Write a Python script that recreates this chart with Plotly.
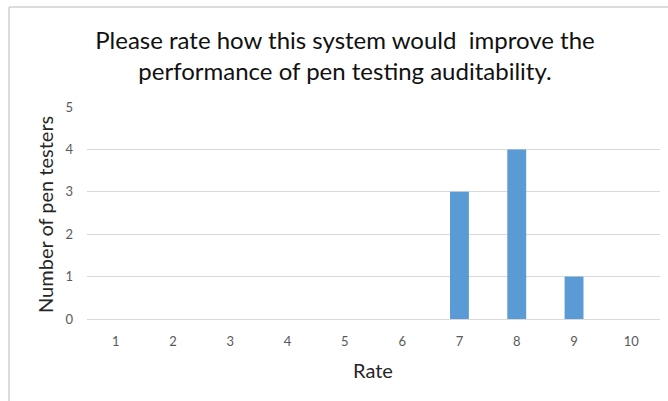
import plotly.graph_objects as go

rates = ["1", "2", "3", "4", "5", "6", "7", "8", "9", "10"]
counts = [0, 0, 0, 0, 0, 0, 3, 4, 1, 0]
y_ticks = [0, 1, 2, 3, 4, 5]

W, H = 668, 401
L, R, T, B = 87, 8, 107, 82
pw = W - L - R
ph = H - T - B

def px_x(x):
    return (x - L) / pw

def px_y(y):
    return (H - B - y) / ph

fig = go.Figure()
fig.add_trace(go.Bar(x=rates, y=counts, marker=dict(color="#5b9bd5", line=dict(width=0))))

fig.update_layout(
    width=W, height=H,
    margin=dict(l=L, r=R, t=T, b=B),
    paper_bgcolor="white", plot_bgcolor="white",
    font=dict(family="Lato, Open Sans, sans-serif", color="#595959"),
    bargap=0.67,
    showlegend=False,
    title=dict(
        text="Please rate how this system would  improve the<br>performance of pen testing auditability.",
        x=345 / W, xanchor="center", xref="container",
        y=1 - 49 / H, yanchor="middle", yref="container",
        font=dict(size=24, color="#111111", family="Lato, sans-serif"),
    ),
    xaxis=dict(
        type="category", showgrid=False, showline=False, zeroline=False,
        ticks="", ticklabelstandoff=13, tickfont=dict(size=13, color="#595959"),
    ),
    yaxis=dict(
        range=[0, 5], tickvals=y_ticks, showgrid=True, gridcolor="#d9d9d9",
        gridwidth=1, zeroline=True, zerolinecolor="#d9d9d9", zerolinewidth=1,
        showline=False, ticks="", ticklabelstandoff=13,
        tickfont=dict(size=13, color="#595959"),
    ),
    annotations=[
        dict(text="Rate", xref="paper", yref="paper", x=px_x(373), y=px_y(370),
             xanchor="center", yanchor="middle", showarrow=False,
             font=dict(size=20, color="#262626")),
        dict(text="Number of pen testers", xref="paper", yref="paper",
             x=px_x(45), y=px_y(215), xanchor="center", yanchor="middle",
             textangle=-90, showarrow=False, font=dict(size=20, color="#262626")),
    ],
    shapes=[
        dict(type="line", xref="paper", yref="paper", x0=px_x(9), x1=px_x(9),
             y0=px_y(7), y1=px_y(H + 5), line=dict(color="#d0d0d0", width=1.5)),
        dict(type="line", xref="paper", yref="paper", x0=px_x(9), x1=px_x(W + 5),
             y0=px_y(7), y1=px_y(7), line=dict(color="#d0d0d0", width=1.5)),
    ],
)

fig.write_html("out.html", config={"displayModeBar": False},
               post_script="document.body.style.margin='0';")
